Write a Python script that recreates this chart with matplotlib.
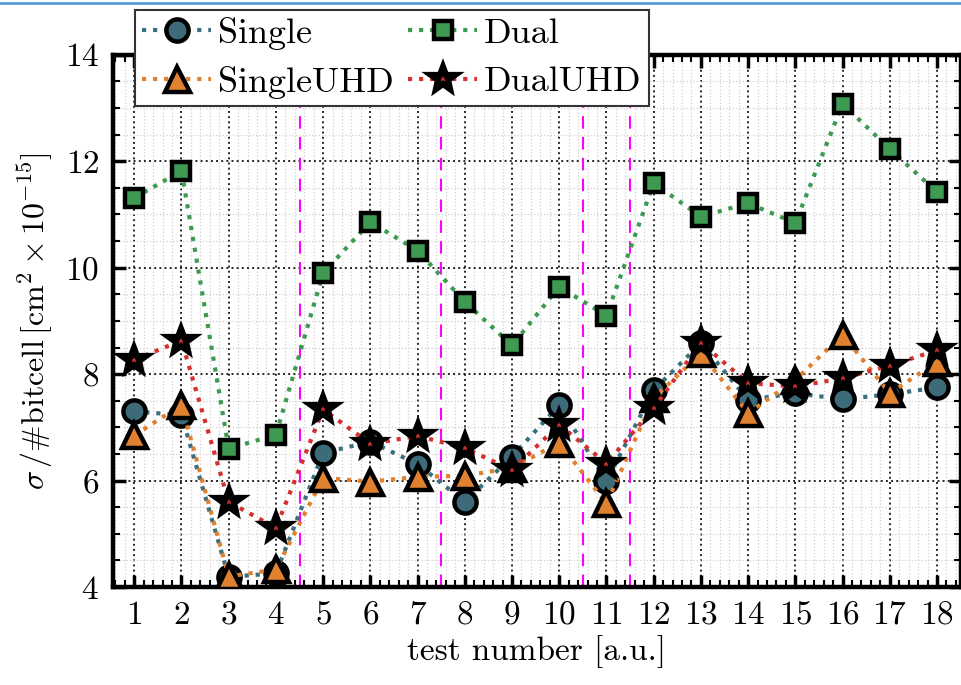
import matplotlib
matplotlib.use('Agg')
import matplotlib.pyplot as plt
from matplotlib.lines import Line2D
from matplotlib.markers import MarkerStyle
from matplotlib.ticker import MultipleLocator

plt.rcParams['font.family'] = 'serif'
plt.rcParams['font.serif'] = ['cmr10']
plt.rcParams['mathtext.fontset'] = 'cm'
plt.rcParams['axes.formatter.use_mathtext'] = True

tests = list(range(1, 19))
single = [7.30, 7.23, 4.19, 4.26, 6.52, 6.73, 6.31, 5.60, 6.45, 7.42, 5.99, 7.70, 8.58, 7.52, 7.64, 7.53, 7.62, 7.75]
single_uhd = [6.85, 7.42, 4.20, 4.33, 6.05, 5.98, 6.07, 6.09, 6.24, 6.71, 5.57, 7.55, 8.39, 7.27, 7.89, 8.74, 7.64, 8.23]
dual = [11.31, 11.82, 6.60, 6.86, 9.90, 10.86, 10.32, 9.36, 8.54, 9.64, 9.10, 11.59, 10.96, 11.21, 10.84, 13.08, 12.23, 11.42]
dual_uhd = [8.27, 8.63, 5.60, 5.11, 7.34, 6.69, 6.84, 6.61, 6.20, 7.05, 6.32, 7.36, 8.59, 7.83, 7.77, 7.92, 8.16, 8.45]
separators = [4.5, 7.5, 10.5, 11.5]

fig = plt.figure(figsize=(9.61, 6.85), dpi=100)
ax = fig.add_axes([0.1176, 0.143, 0.882, 0.777])

star = MarkerStyle('*', joinstyle='miter')

ax.plot(tests, single, ':', color='#3a6f7f', lw=3, marker='o', ms=16,
        mfc='#3d6b7a', mec='black', mew=3.2, label='Single', zorder=3)
ax.plot(tests, single_uhd, ':', color='#e0812f', lw=3, marker='^', ms=18,
        mfc='#e0812f', mec='black', mew=3.2, label='SingleUHD', zorder=3)
ax.plot(tests, dual, ':', color='#3d9a50', lw=3, marker='s', ms=13,
        mfc='#3d9a50', mec='black', mew=3.2, label='Dual', zorder=3)
ax.plot(tests, dual_uhd, ':', color='#d62f2f', lw=3, marker=star, ms=18,
        mfc='#d62f2f', mec='black', mew=4.5, label='DualUHD', zorder=3)

for xs in separators:
    ax.axvline(xs, color='#ff00ff', ls=(0, (6, 4)), lw=1.5, zorder=2)

ax.set_xlim(0.55, 18.5)
ax.set_ylim(4, 14)
ax.set_xticks(tests)
ax.yaxis.set_major_locator(MultipleLocator(2))
ax.yaxis.set_minor_locator(MultipleLocator(0.5))
ax.xaxis.set_minor_locator(MultipleLocator(0.2))
ax.tick_params(which='both', direction='in', top=True, right=True, labelsize=24)
ax.tick_params(which='major', length=9, width=2.5, pad=10)
ax.tick_params(which='minor', length=5, width=1.5)
ax.grid(which='major', ls=':', color='black', lw=1.4, alpha=0.85)
ax.grid(which='minor', ls=':', color='#d0d0d0', lw=0.9)
for sp in ax.spines.values():
    sp.set_linewidth(3.2)

ax.set_xlabel('test number [a.u.]', fontsize=24, labelpad=4)
ax.set_ylabel(r'$\sigma\,/\#\mathrm{bitcell}\,[\mathrm{cm}^2\times10^{-15}]$', fontsize=23, labelpad=6)

handles, labels = ax.get_legend_handles_labels()
leg = ax.legend(handles, labels, ncol=2, loc='upper left', bbox_to_anchor=(0.026, 1.085),
                borderaxespad=0, fontsize=26, fancybox=False, framealpha=1,
                edgecolor='#333333', handlelength=1.9, handletextpad=0.2,
                columnspacing=0.4, labelspacing=0.45, borderpad=0.2)
leg.get_frame().set_linewidth(1.5)

fig.add_artist(Line2D([0, 1], [1 - 3 / 685, 1 - 3 / 685], color='#5b9bd5', lw=2))

fig.savefig('out.png', dpi=100)
